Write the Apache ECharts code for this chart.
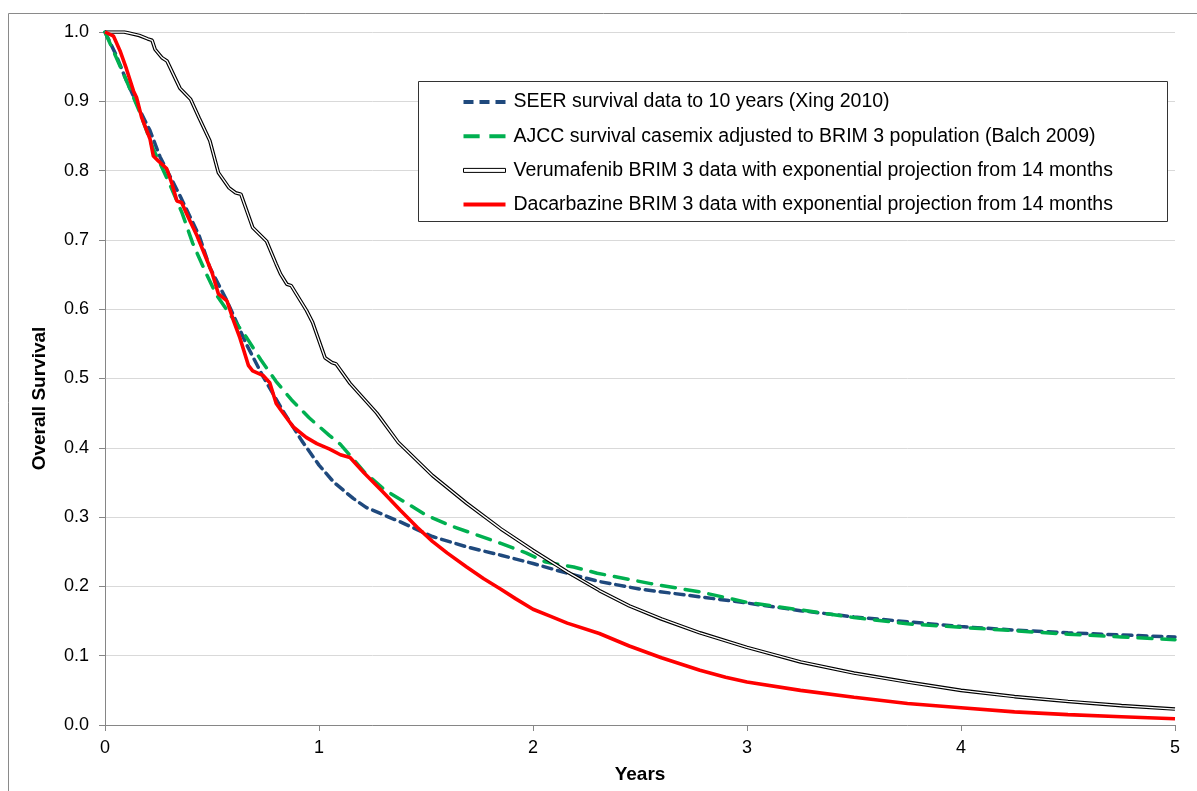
<!DOCTYPE html>
<html>
<head>
<meta charset="utf-8">
<script src="https://cdn.jsdelivr.net/npm/echarts@6/dist/echarts.min.js"></script>
<style>
html,body{margin:0;padding:0;background:#fff;}
#chart{width:1197px;height:791px;}
</style>
</head>
<body>
<div id="chart"></div>
<script>
// ---- Data (years, overall survival) ----
const seerName = 'SEER survival data to 10 years (Xing 2010)';
const ajccName = 'AJCC survival casemix adjusted to BRIM 3 population (Balch 2009)';
const vemuName = 'Verumafenib BRIM 3 data with exponential projection from 14 months';
const dacaName = 'Dacarbazine BRIM 3 data with exponential projection from 14 months';

const seerData = [[0,1.0],[0.05,0.968],[0.1,0.93],[0.164,0.886],[0.21,0.858],[0.257,0.82],[0.35,0.764],[0.44,0.706],[0.49,0.66],[0.57,0.612],[0.66,0.55],[0.74,0.502],[0.83,0.454],[0.92,0.41],[1.0,0.375],[1.07,0.35],[1.16,0.327],[1.22,0.314],[1.38,0.293],[1.53,0.272],[1.69,0.257],[1.85,0.245],[2.0,0.233],[2.16,0.219],[2.31,0.207],[2.5,0.196],[2.78,0.185],[3.0,0.176],[3.25,0.165],[3.5,0.156],[3.75,0.149],[4.0,0.142],[4.25,0.137],[4.5,0.133],[4.75,0.13],[5.0,0.127]];

const ajccData = [[0,1.0],[0.05,0.965],[0.1,0.93],[0.164,0.883],[0.226,0.831],[0.30,0.782],[0.36,0.739],[0.41,0.695],[0.475,0.65],[0.522,0.62],[0.587,0.591],[0.662,0.559],[0.728,0.527],[0.799,0.496],[0.872,0.469],[0.955,0.443],[1.048,0.418],[1.1,0.405],[1.215,0.364],[1.308,0.339],[1.41,0.32],[1.5,0.303],[1.61,0.288],[1.74,0.274],[1.85,0.262],[1.97,0.248],[2.06,0.235],[2.19,0.228],[2.3,0.219],[2.55,0.204],[2.78,0.192],[3.0,0.177],[3.25,0.166],[3.5,0.155],[3.75,0.146],[4.0,0.141],[4.25,0.136],[4.5,0.131],[4.75,0.127],[5.0,0.123]];

const vemuData = [[0,1.0],[0.09,1.0],[0.16,0.995],[0.2,0.99],[0.22,0.988],[0.234,0.975],[0.266,0.963],[0.29,0.958],[0.35,0.919],[0.4,0.903],[0.44,0.876],[0.49,0.843],[0.53,0.797],[0.58,0.775],[0.61,0.768],[0.635,0.766],[0.69,0.718],[0.755,0.698],[0.80,0.665],[0.82,0.651],[0.85,0.636],[0.87,0.634],[0.942,0.598],[0.97,0.581],[1.028,0.53],[1.06,0.523],[1.08,0.521],[1.145,0.493],[1.27,0.45],[1.37,0.408],[1.53,0.36],[1.69,0.32],[1.85,0.283],[2.0,0.252],[2.16,0.221],[2.31,0.194],[2.45,0.172],[2.6,0.153],[2.78,0.133],[3.0,0.112],[3.25,0.091],[3.5,0.075],[3.75,0.062],[4.0,0.05],[4.25,0.041],[4.5,0.034],[4.75,0.028],[5.0,0.023]];

const dacaData = [[0,1.0],[0.04,0.994],[0.07,0.973],[0.10,0.947],[0.133,0.915],[0.148,0.905],[0.172,0.876],[0.21,0.846],[0.226,0.821],[0.249,0.814],[0.288,0.803],[0.312,0.782],[0.336,0.756],[0.358,0.754],[0.39,0.732],[0.43,0.706],[0.50,0.653],[0.53,0.622],[0.57,0.612],[0.60,0.584],[0.63,0.559],[0.67,0.519],[0.69,0.511],[0.74,0.504],[0.77,0.494],[0.80,0.464],[0.83,0.451],[0.88,0.43],[0.94,0.415],[0.99,0.406],[1.05,0.398],[1.10,0.39],[1.145,0.386],[1.21,0.364],[1.30,0.336],[1.38,0.31],[1.46,0.285],[1.53,0.265],[1.6,0.248],[1.69,0.228],[1.77,0.211],[1.85,0.196],[1.92,0.182],[2.0,0.167],[2.08,0.157],[2.16,0.147],[2.31,0.132],[2.45,0.114],[2.6,0.097],[2.78,0.079],[2.9,0.069],[3.0,0.062],[3.25,0.05],[3.5,0.04],[3.75,0.031],[4.0,0.025],[4.25,0.019],[4.5,0.015],[4.75,0.012],[5.0,0.009]];

const yTicks = {min: 0, max: 1, interval: 0.1};
const xTicks = {min: 0, max: 5, interval: 1};

// ---- Chart ----
const chart = echarts.init(document.getElementById('chart'), null, {renderer: 'canvas'});
const FONT = '"Liberation Sans", Arial, sans-serif';
const axisGray = '#868686';

const option = {
  animation: false,
  backgroundColor: '#fff',
  textStyle: {fontFamily: FONT},
  grid: {left: 105, top: 32, right: 22, bottom: 66, containLabel: false},
  graphic: [
    {type: 'rect', z: 0, silent: true, shape: {x: 8.5, y: 13.5, width: 1300, height: 900}, style: {fill: 'none', stroke: '#8a8a8a', lineWidth: 1}},
    {type: 'rect', z: 3, silent: true, shape: {x: 418.5, y: 81.5, width: 749, height: 140}, style: {fill: '#fff', stroke: '#333', lineWidth: 1}}
  ],
  legend: {
    orient: 'vertical',
    left: 463,
    top: 92,
    z: 5,
    padding: 0,
    itemWidth: 42,
    itemHeight: 4,
    itemGap: 14.2,
    symbolKeepAspect: false,
    textStyle: {fontFamily: FONT, fontSize: 19.5, color: '#000', lineHeight: 18, padding: [0, 0, 0, 3]},
    data: [
      {name: seerName, icon: 'path://M0,0h10v4h-10z M16,0h10v4h-10z M32,0h10v4h-10z', itemStyle: {color: '#1F497D', borderWidth: 0}},
      {name: ajccName, icon: 'path://M0,0h15v4h-15z M24,0h15v4h-15z', itemStyle: {color: '#00B050', borderWidth: 0}},
      {name: vemuName, icon: 'path://M0,0h42v4h-42z', itemStyle: {color: '#fff', borderColor: '#000', borderWidth: 1}},
      {name: dacaName, icon: 'path://M0,0h42v4h-42z', itemStyle: {color: '#FF0000', borderWidth: 0}}
    ]
  },
  xAxis: {
    type: 'value',
    min: xTicks.min, max: xTicks.max, interval: xTicks.interval,
    name: 'Years',
    nameLocation: 'middle',
    nameGap: 40,
    nameTextStyle: {fontFamily: FONT, fontSize: 19, fontWeight: 'bold', color: '#000'},
    axisLine: {show: true, lineStyle: {color: axisGray, width: 1}},
    axisTick: {show: true, inside: false, length: 6, lineStyle: {color: axisGray}},
    axisLabel: {fontFamily: FONT, fontSize: 18, color: '#000', margin: 14},
    splitLine: {show: false}
  },
  yAxis: {
    type: 'value',
    min: yTicks.min, max: yTicks.max, interval: yTicks.interval,
    name: 'Overall Survival',
    nameLocation: 'middle',
    nameGap: 56,
    nameTextStyle: {fontFamily: FONT, fontSize: 19, fontWeight: 'bold', color: '#000', padding: [0, 40, 0, 0]},
    axisLine: {show: true, onZero: false, lineStyle: {color: axisGray, width: 1}},
    axisTick: {show: true, inside: false, length: 6, lineStyle: {color: axisGray}},
    axisLabel: {fontFamily: FONT, fontSize: 18, color: '#000', margin: 16, formatter: v => v.toFixed(1)},
    splitLine: {show: true, lineStyle: {color: '#d9d9d9', width: 1}}
  },
  series: [
    {name: seerName, type: 'line', data: seerData, showSymbol: false, symbol: 'none', z: 2,
     lineStyle: {color: '#1F497D', width: 3.5, type: [9, 6], cap: 'round'}, itemStyle: {color: '#1F497D'}},
    {name: ajccName, type: 'line', data: ajccData, showSymbol: false, symbol: 'none', z: 3,
     lineStyle: {color: '#00B050', width: 3.5, type: [14, 10], cap: 'round'}, itemStyle: {color: '#00B050'}},
    {name: vemuName, type: 'line', data: vemuData, showSymbol: false, symbol: 'none', z: 4,
     lineStyle: {color: '#000', width: 3.6}, itemStyle: {color: '#000'}},
    {name: vemuName + ' (inner)', type: 'line', data: vemuData, showSymbol: false, symbol: 'none', z: 5,
     lineStyle: {color: '#fff', width: 1.3}, itemStyle: {color: '#fff'}},
    {name: dacaName, type: 'line', data: dacaData, showSymbol: false, symbol: 'none', z: 6,
     lineStyle: {color: '#FF0000', width: 3.6}, itemStyle: {color: '#FF0000'}}
  ]
};
chart.setOption(option);
</script>
</body>
</html>
